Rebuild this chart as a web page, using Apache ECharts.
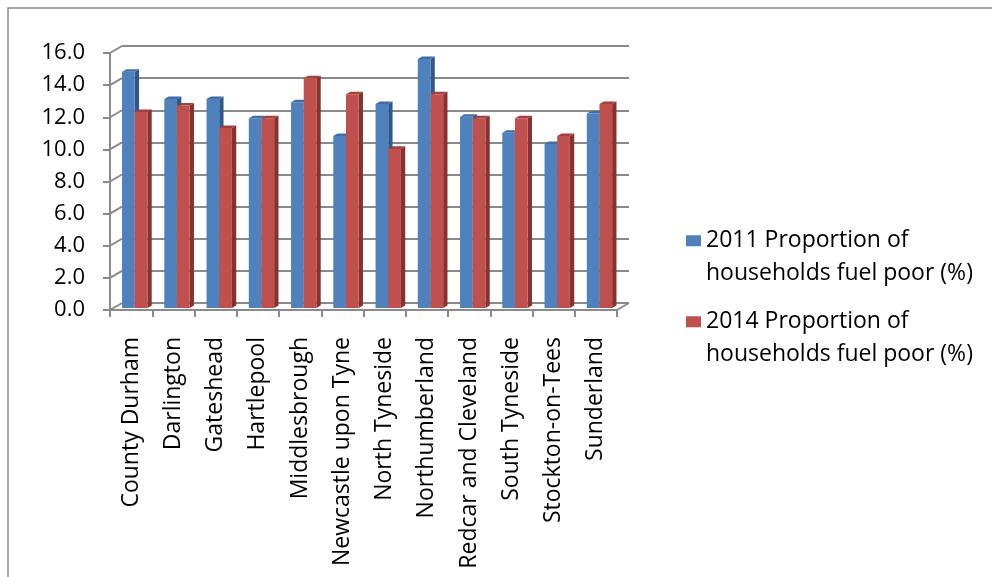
<!DOCTYPE html>
<html>
<head>
<meta charset="utf-8">
<script src="https://cdn.jsdelivr.net/npm/echarts@6/dist/echarts.min.js"></script>
<style>html,body{margin:0;padding:0;background:#fff}#c{width:992px;height:577px}</style>
</head>
<body>
<div id="c"></div>
<script>
const categories = ['County Durham','Darlington','Gateshead','Hartlepool','Middlesbrough','Newcastle upon Tyne','North Tyneside','Northumberland','Redcar and Cleveland','South Tyneside','Stockton-on-Tees','Sunderland'];
const values2011 = [14.7, 13.0, 13.0, 11.8, 12.8, 10.7, 12.7, 15.5, 11.9, 10.9, 10.2, 12.1];
const values2014 = [12.2, 12.6, 11.2, 11.8, 14.3, 13.3, 9.9, 13.3, 11.8, 11.8, 10.7, 12.7];
const yTicks = [0, 2, 4, 6, 8, 10, 12, 14, 16];
const name2011 = '2011 Proportion of\nhouseholds fuel poor (%)';
const name2014 = '2014 Proportion of\nhouseholds fuel poor (%)';

const DX = 12, DY = -7;      // depth offset of back wall
const F = 0.3, B = 0.66;     // bar front/back depth fractions
const FONT = 'Open Sans';
const GRID_C = '#8a8a8a';

const palettes = [
  {front: '#4F81BD', side: '#31588A', top: '#3F6DA6'},
  {front: '#C0504D', side: '#86332F', top: '#A2403D'}
];

function barRender(sIdx) {
  return function (params, api) {
    const i = api.value(0), v = api.value(1);
    const band = api.size([1, 0])[0];
    const base = api.coord([i, 0]);
    const top = api.coord([i, v]);
    const bw = band * 0.3;
    const fx = DX * F, fy = DY * F;
    const ddx = DX * (B - F), ddy = DY * (B - F);
    const x0 = base[0] + fx - bw + sIdx * bw;
    const x1 = x0 + bw;
    const yT = top[1] + fy, yB = base[1] + fy;
    const p = palettes[sIdx];
    return {
      type: 'group',
      children: [
        {type: 'polygon', shape: {points: [[x1, yT], [x1 + ddx, yT + ddy], [x1 + ddx, yB + ddy], [x1, yB]]}, style: {fill: p.side}},
        {type: 'polygon', shape: {points: [[x0, yT], [x0 + ddx, yT + ddy], [x1 + ddx, yT + ddy], [x1, yT]]}, style: {fill: p.top}},
        {type: 'rect', shape: {x: x0, y: yT, width: bw, height: yB - yT}, style: {fill: p.front}}
      ]
    };
  };
}

const chart = echarts.init(document.getElementById('c'), null, {renderer: 'canvas'});
const legendText = {fontFamily: FONT, fontSize: 23, color: '#000', lineHeight: 32.5};
const legendFmt = name => ' \n' + name;
chart.setOption({
  animation: false,
  backgroundColor: '#fff',
  graphic: [{type: 'rect', shape: {x: 8, y: 8, width: 1000, height: 600}, style: {fill: 'none', stroke: '#8a8a8a', lineWidth: 1.5}, z: -10}],
  grid: [
    {left: 110, right: 375, top: 53, bottom: 267},
    {left: 122, right: 363, top: 46, bottom: 274}
  ],
  legend: [
    {data: [name2011], left: 686, top: 192, orient: 'vertical', icon: 'rect', itemWidth: 15, itemHeight: 11, itemGap: 0, padding: 0, textStyle: legendText, formatter: legendFmt, selectedMode: false},
    {data: [name2014], left: 686, top: 273, orient: 'vertical', icon: 'rect', itemWidth: 15, itemHeight: 11, itemGap: 0, padding: 0, textStyle: legendText, formatter: legendFmt, selectedMode: false}
  ],
  xAxis: [
    {type: 'category', gridIndex: 0, data: categories, boundaryGap: true,
     axisLine: {show: true, lineStyle: {color: GRID_C, width: 2}},
     axisTick: {show: true, interval: 0, length: 7, lineStyle: {color: GRID_C, width: 2}},
     axisLabel: {rotate: 90, interval: 0, margin: 27, fontFamily: FONT, fontSize: 23, color: '#000'},
     splitLine: {show: false}},
    {type: 'category', gridIndex: 1, data: categories, show: false}
  ],
  yAxis: [
    {type: 'value', gridIndex: 0, min: 0, max: 16, interval: 2,
     axisLine: {show: true, lineStyle: {color: GRID_C, width: 2}},
     axisTick: {show: true, length: 7, lineStyle: {color: GRID_C, width: 2}},
     axisLabel: {margin: 25, fontFamily: FONT, fontSize: 22, color: '#000', formatter: v => v.toFixed(1)},
     splitLine: {show: false}},
    {type: 'value', gridIndex: 1, min: 0, max: 16, interval: 2,
     axisLine: {show: false}, axisTick: {show: false}, axisLabel: {show: false},
     splitLine: {show: true, lineStyle: {color: GRID_C, width: 2}}}
  ],
  series: [
    {type: 'custom', name: 'walls', xAxisIndex: 0, yAxisIndex: 0, z: 1, silent: true,
     data: yTicks.map(t => [0, t]),
     renderItem: function (params, api) {
       const cs = params.coordSys;
       const y = api.coord([0, api.value(1)])[1];
       const children = [{type: 'line', shape: {x1: cs.x, y1: y, x2: cs.x + DX, y2: y + DY}, style: {stroke: GRID_C, lineWidth: 2}}];
       if (api.value(1) === 0) {
         children.push({type: 'line', shape: {x1: cs.x + cs.width, y1: y, x2: cs.x + cs.width + DX, y2: y + DY}, style: {stroke: GRID_C, lineWidth: 2}});
       }
       return {type: 'group', children: children};
     }},
    {type: 'custom', name: name2011, xAxisIndex: 0, yAxisIndex: 0, z: 3,
     itemStyle: {color: palettes[0].front},
     data: values2011.map((v, i) => [i, v]), encode: {x: 0, y: 1},
     renderItem: barRender(0)},
    {type: 'custom', name: name2014, xAxisIndex: 0, yAxisIndex: 0, z: 3,
     itemStyle: {color: palettes[1].front},
     data: values2014.map((v, i) => [i, v]), encode: {x: 0, y: 1},
     renderItem: barRender(1)}
  ]
});
</script>
</body>
</html>
